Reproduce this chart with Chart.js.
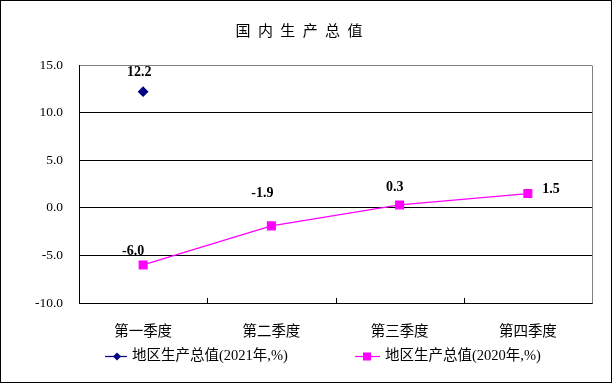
<!DOCTYPE html>
<html>
<head>
<meta charset="utf-8">
<script src="https://cdn.jsdelivr.net/npm/chart.js@4/dist/chart.umd.min.js"></script>
<style>
html,body{margin:0;padding:0;background:#fff;}
#wrap{width:612px;height:384px;position:relative;}
</style>
</head>
<body>
<div id="wrap"><canvas id="c" width="612" height="384"></canvas></div>
<script>
const title = "国内生产总值";
const categories = ["第一季度", "第二季度", "第三季度", "第四季度"];
const series2021 = [12.2, null, null, null];
const series2020 = [-6.0, -1.9, 0.3, 1.5];
const seriesNames = ["地区生产总值(2021年,%)", "地区生产总值(2020年,%)"];
const yTicks = [15, 10, 5, 0, -5, -10];

const CJK = "'Noto Sans CJK SC'";
const SERIF = "'Liberation Serif'";

const decorPlugin = {
  id: 'decor',
  beforeDraw(chart) {
    const ctx = chart.ctx;
    ctx.save();
    ctx.fillStyle = '#fff';
    ctx.fillRect(0, 0, chart.width, chart.height);
    ctx.restore();
  },
  afterDraw(chart) {
    const ctx = chart.ctx;
    const ca = chart.chartArea;
    ctx.save();
    // plot frame right side gray
    ctx.strokeStyle = '#808080';
    ctx.lineWidth = 1;
    ctx.beginPath();
    ctx.moveTo(Math.round(ca.right) + 0.5, Math.round(ca.top) + 0.5);
    ctx.lineTo(Math.round(ca.right) + 0.5, Math.round(ca.bottom) + 0.5);
    ctx.stroke();
    // inside tick marks between categories
    const xs = chart.scales.x;
    ctx.strokeStyle = '#000';
    for (let i = 1; i < categories.length; i++) {
      const x = Math.round((xs.getPixelForTick(i - 1) + xs.getPixelForTick(i)) / 2) + 0.5;
      ctx.beginPath();
      ctx.moveTo(x, ca.bottom);
      ctx.lineTo(x, ca.bottom - 5);
      ctx.stroke();
    }
    // title
    ctx.fillStyle = '#000';
    ctx.font = "15px " + CJK;
    ctx.textAlign = 'center';
    ctx.textBaseline = 'middle';
    const chars = Array.from(title);
    const step = 22.4;
    const cx = 299;
    chars.forEach((ch, i) => {
      ctx.fillText(ch, cx + (i - (chars.length - 1) / 2) * step, 30);
    });
    // legend
    const legendItems = [
      {x0: 105, x1: 127, mx: 117, tx: 132, ds: 0},
      {x0: 355, x1: 380, mx: 367, tx: 385, ds: 1}
    ];
    const ly = 356.5;
    legendItems.forEach(it => {
      const d = chart.data.datasets[it.ds];
      ctx.strokeStyle = d.borderColor;
      ctx.lineWidth = 1.25;
      ctx.beginPath();
      ctx.moveTo(it.x0, ly);
      ctx.lineTo(it.x1, ly);
      ctx.stroke();
      ctx.fillStyle = d.pointBackgroundColor;
      if (d.pointStyle === 'rectRot') {
        const r = 4;
        ctx.beginPath();
        ctx.moveTo(it.mx, ly - r);
        ctx.lineTo(it.mx + r, ly);
        ctx.lineTo(it.mx, ly + r);
        ctx.lineTo(it.mx - r, ly);
        ctx.closePath();
        ctx.fill();
      } else {
        ctx.fillRect(it.mx - 4, ly - 4, 8, 8);
      }
      ctx.fillStyle = '#000';
      ctx.font = "14.5px " + SERIF + ", " + CJK;
      ctx.textAlign = 'left';
      ctx.textBaseline = 'middle';
      ctx.fillText(d.label, it.tx, ly);
    });
    // outer border
    ctx.strokeStyle = '#000';
    ctx.lineWidth = 1;
    ctx.strokeRect(0.5, 0.5, 611, 382);
    ctx.restore();
  }
};

const labelPlugin = {
  id: 'valueLabels',
  afterDatasetsDraw(chart, args, opts) {
    const ctx = chart.ctx;
    ctx.save();
    ctx.font = "bold 14px " + SERIF;
    ctx.fillStyle = '#000';
    ctx.textAlign = 'center';
    ctx.textBaseline = 'middle';
    chart.data.datasets.forEach((ds, di) => {
      const meta = chart.getDatasetMeta(di);
      const offs = opts.offsets[di];
      meta.data.forEach((pt, i) => {
        const v = ds.data[i];
        if (v === null || v === undefined) return;
        const o = offs[i] || [0, -16];
        ctx.fillText(v.toFixed(1), pt.x + o[0], pt.y + o[1]);
      });
    });
    ctx.restore();
  }
};

new Chart(document.getElementById('c'), {
  type: 'line',
  data: {
    labels: categories,
    datasets: [
      {
        label: seriesNames[0],
        data: series2021,
        borderColor: '#000080',
        backgroundColor: '#000080',
        pointBackgroundColor: '#000080',
        pointBorderColor: '#000080',
        pointStyle: 'rectRot',
        pointRadius: 4.5,
        borderWidth: 1.25,
        spanGaps: false
      },
      {
        label: seriesNames[1],
        data: series2020,
        borderColor: '#FF00FF',
        backgroundColor: '#FF00FF',
        pointBackgroundColor: '#FF00FF',
        pointBorderColor: '#FF00FF',
        pointStyle: 'rect',
        pointRadius: 5.5,
        borderWidth: 1.25
      }
    ]
  },
  options: {
    responsive: false,
    animation: false,
    devicePixelRatio: 1,
    layout: {padding: {left: 0, top: 65, right: 20, bottom: 0}},
    plugins: {
      legend: {display: false},
      title: {display: false},
      tooltip: {enabled: false},
      valueLabels: {
        offsets: [
          [[-4, -19]],
          [[-10, -14], [-9, -32], [-5, -18], [23, -4]]
        ]
      }
    },
    scales: {
      x: {
        offset: true,
        grid: {display: false},
        border: {display: true, color: '#000', width: 1},
        ticks: {
          color: '#000',
          padding: 11,
          font: {family: CJK, size: 14.5},
          maxRotation: 0
        },
        afterFit(scale) { scale.height = 81; }
      },
      y: {
        min: -10,
        max: 15,
        afterBuildTicks(scale) {
          scale.ticks = yTicks.map(v => ({value: v}));
        },
        grid: {
          drawTicks: false,
          color: ctx => (ctx.tick && ctx.tick.value === 15) ? '#808080' : '#000',
          lineWidth: 1
        },
        border: {display: true, color: '#000', width: 1},
        ticks: {
          color: '#000',
          padding: 16,
          font: {family: SERIF, size: 13.5},
          callback: v => Number(v).toFixed(1)
        },
        afterFit(scale) { scale.width = 79; }
      }
    }
  },
  plugins: [decorPlugin, labelPlugin]
});
</script>
</body>
</html>
